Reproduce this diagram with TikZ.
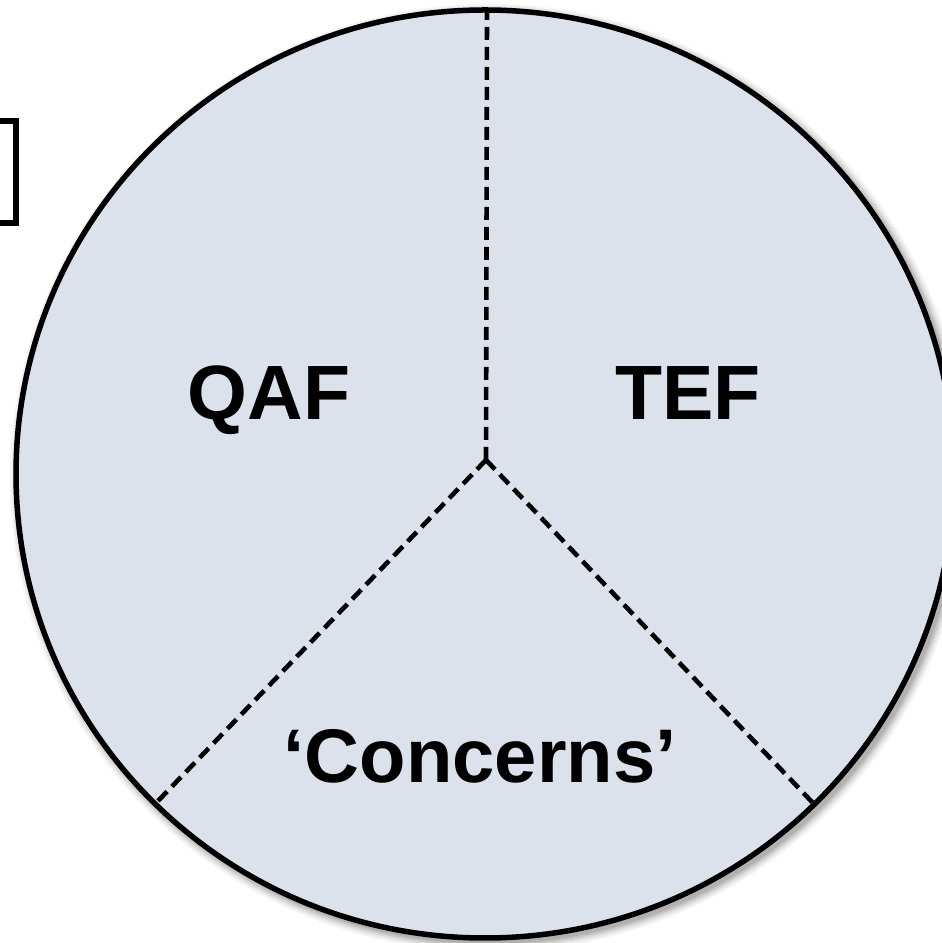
\documentclass[tikz,border=0pt]{standalone}
\usepackage{fontspec}
\setmainfont{Liberation Sans}
\usetikzlibrary{calc}
\definecolor{pief}{RGB}{220,226,235}
\tikzset{
  divider/.style={line width=4.6pt, dash pattern=on 13pt off 7pt},
  lbl/.style={font=\bfseries\fontsize{77}{80}\selectfont, anchor=base, inner sep=0pt},
  lblsmall/.style={font=\bfseries\fontsize{76}{80}\selectfont, anchor=base, inner sep=0pt},
}
\begin{document}
\begin{tikzpicture}[x=1pt, y=1pt]
\useasboundingbox (0,0) rectangle (942,943);
% partial box at left
\draw[line width=5.5pt] (-10,822) -- (16,822) -- (16,720) -- (-10,720);
% shadow
\foreach \o/\a in {10/0.04,8/0.05,6/0.07,4/0.09,2/0.1}{
  \fill[black,opacity=\a] (489,465) ellipse ({469+\o} and {464+\o});
}
\fill[white] (485,469) ellipse (467 and 462);
% circle
\draw[line width=5.5pt, fill=pief] (485,469) ellipse (469 and 464);
\coordinate (mid) at (486,483);
\coordinate (top) at (487,931);
\coordinate (bl) at (157,141);
\coordinate (br) at (813,140);
\draw[divider] (mid) -- (top);
\draw[divider] (mid) -- (bl);
\draw[divider] (mid) -- (br);
\node[lbl] (qaf) at (269,523) {QAF};
\node[lbl] (tef) at (688,523) {TEF};
\node[lblsmall] (conc) at (480,160) {‘Concerns’};
\end{tikzpicture}
\end{document}
